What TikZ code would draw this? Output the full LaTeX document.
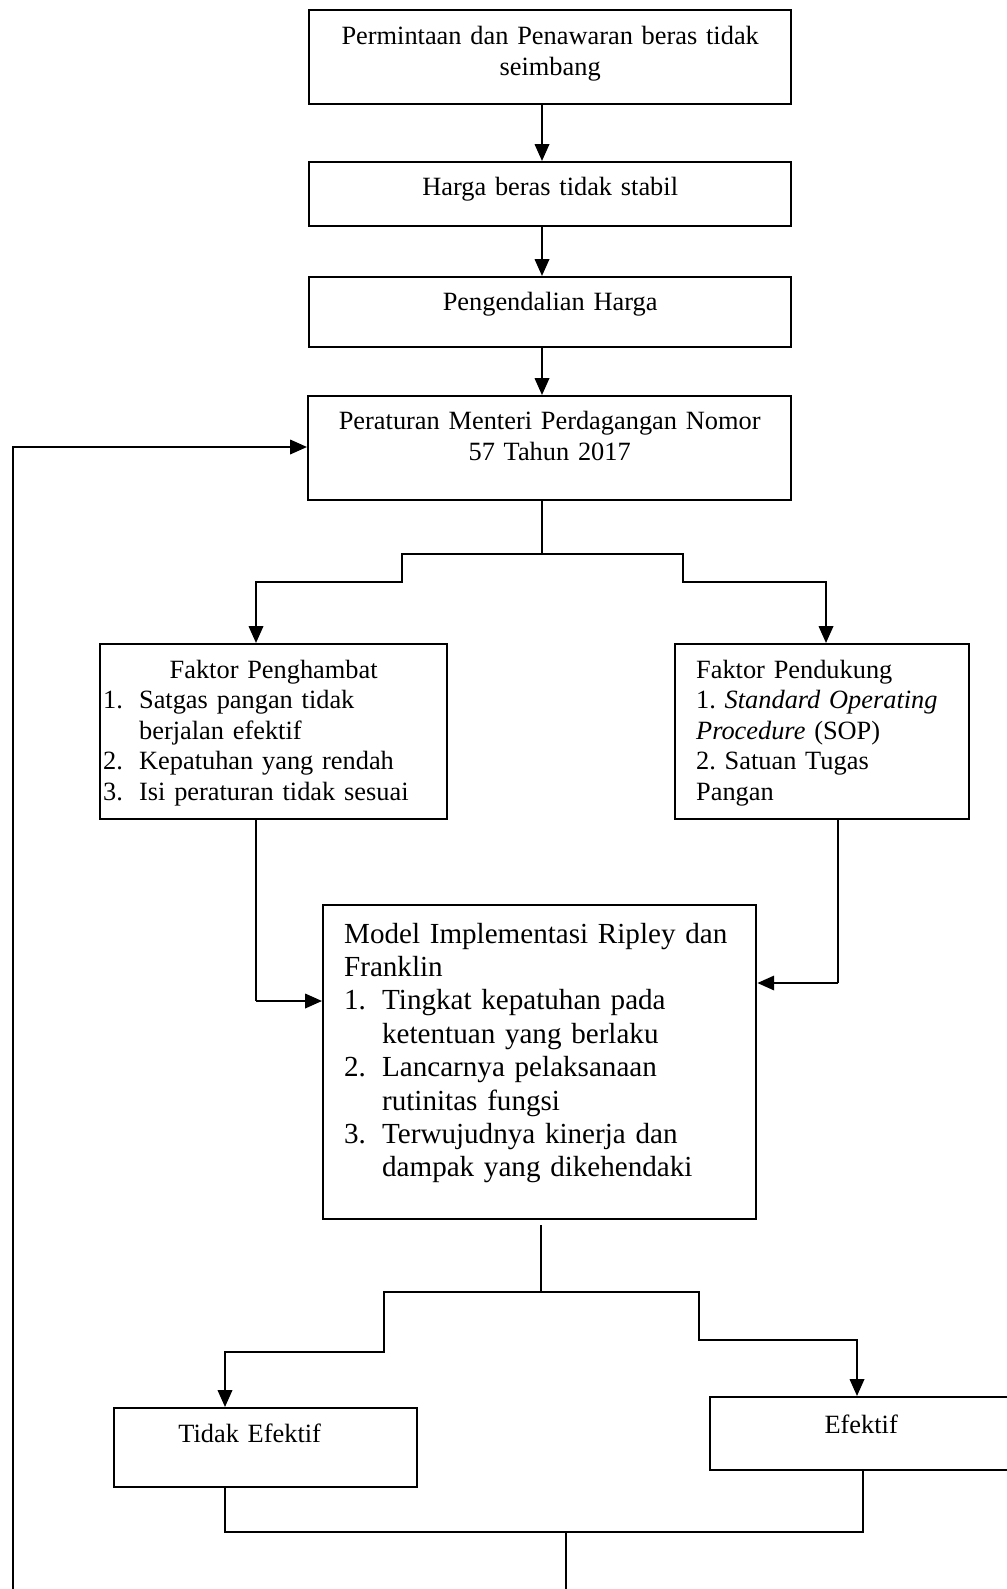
\documentclass[tikz,border=0pt]{standalone}
\usepackage{fontspec}
\setmainfont{Liberation Serif}
\usetikzlibrary{arrows.meta}

\begin{document}
\begin{tikzpicture}[x=0.025cm, y=-0.025cm, >={Triangle[length=0.42cm, width=0.36cm]},
box/.style={draw, line width=1.6pt, anchor=north west, inner ysep=0pt, inner xsep=0pt, align=center, font=\fontsize{18.75}{22.4}\selectfont},
link/.style={line width=1.5pt},
trunk/.style={line width=0.8pt}]
\useasboundingbox (0,0) rectangle (1006,1589);

\node [box, text width=12.05cm, text height=0.85cm, text depth=1.5cm] (0) at (308,9) {Permintaan dan Penawaran beras tidak\\seimbang};
\node [box, text width=12.05cm, text height=0.825cm, text depth=0.775cm] (1) at (308,161) {Harga beras tidak stabil};
\node [box, text width=12.05cm, text height=0.825cm, text depth=0.925cm] (2) at (308,276) {Pengendalian Harga};
\node [box, text width=12.075cm, text height=0.825cm, text depth=1.775cm] (3) at (307,395) {Peraturan Menteri Perdagangan Nomor\\57 Tahun 2017};
\node [box, align=left, font=\fontsize{18.75}{21.7}\selectfont, inner xsep=0.075cm, text width=8.525cm, text height=0.85cm, text depth=3.525cm] (4) at (99,643) {\makebox[8.525cm][c]{Faktor Penghambat}\\
\makebox[0.9cm][l]{1.}Satgas pangan tidak\\
\hspace*{0.9cm}berjalan efektif\\
\makebox[0.9cm][l]{2.}Kepatuhan yang rendah\\
\makebox[0.9cm][l]{3.}Isi peraturan tidak sesuai};
\node [box, align=left, font=\fontsize{18.75}{21.7}\selectfont, inner xsep=0.525cm, text width=6.3cm, text height=0.85cm, text depth=3.525cm] (5) at (674,643) {Faktor Pendukung\\
1.\ \textit{Standard Operating}\\
\textit{Procedure} (SOP)\\
2.\ Satuan Tugas\\
Pangan};
\node [box, align=left, font=\fontsize{20.7}{23.75}\selectfont, inner xsep=0.525cm, text width=9.775cm, text height=0.95cm, text depth=6.9cm] (6) at (322,904) {\makebox[9.775cm][s]{Model Implementasi Ripley dan}\\
Franklin\\
\makebox[0.95cm][l]{1.}Tingkat kepatuhan pada\\
\hspace*{0.95cm}ketentuan yang berlaku\\
\makebox[0.95cm][l]{2.}Lancarnya pelaksanaan\\
\hspace*{0.95cm}rutinitas fungsi\\
\makebox[0.95cm][l]{3.}Terwujudnya kinerja dan\\
\hspace*{0.95cm}dampak yang dikehendaki};
\node [box, text width=7.575cm, text height=0.85cm, text depth=1.125cm] (7) at (113,1407) {\hspace*{-0.8cm}Tidak Efektif};
\node [box, text width=7.55cm, text height=0.9cm, text depth=0.925cm] (8) at (709,1396) {Efektif};

\coordinate (9) at (542,554);
\coordinate (10) at (402,582);
\coordinate (11) at (256,582);
\coordinate (12) at (683,582);
\coordinate (13) at (826,582);
\coordinate (14) at (256,1001);
\coordinate (15) at (838,983);
\coordinate (16) at (541,1225);
\coordinate (17) at (541,1292);
\coordinate (18) at (384,1352);
\coordinate (19) at (225,1352);
\coordinate (20) at (699,1340);
\coordinate (21) at (857,1340);
\coordinate (22) at (225,1532);
\coordinate (23) at (863,1532);
\coordinate (24) at (566,1532);
\coordinate (25) at (566,1589);
\coordinate (26) at (12.7,1589);
\coordinate (27) at (12.7,447);

\draw [link, ->] (0.south -| 9) to (1.north -| 9);
\draw [link, ->] (1.south -| 9) to (2.north -| 9);
\draw [link, ->] (2.south -| 9) to (3.north -| 9);

\draw [trunk] (3.south -| 9) to (9);
\draw [link, ->] (9) -| (10) -| (11 |- 4.north);
\draw [link, ->] (9) -| (12) -| (13 |- 5.north);

\draw [trunk] (4.south -| 14) to (14);
\draw [link, ->] (14) to (14 -| 6.west);
\draw [trunk] (5.south -| 15) to (15);
\draw [link, ->] (15) to (15 -| 6.east);

\draw [trunk] (16) to (17);
\draw [link, ->] (17) -| (18) -| (19 |- 7.north);
\draw [link, ->] (17) -| (20) -| (21 |- 8.north);

\draw [link] (7.south -| 22) to (22) to (23) to (8.south -| 23);
\draw [link] (24) to (25);

\draw [link, ->] (26) to (27) to (27 -| 3.west);
\end{tikzpicture}
\end{document}
